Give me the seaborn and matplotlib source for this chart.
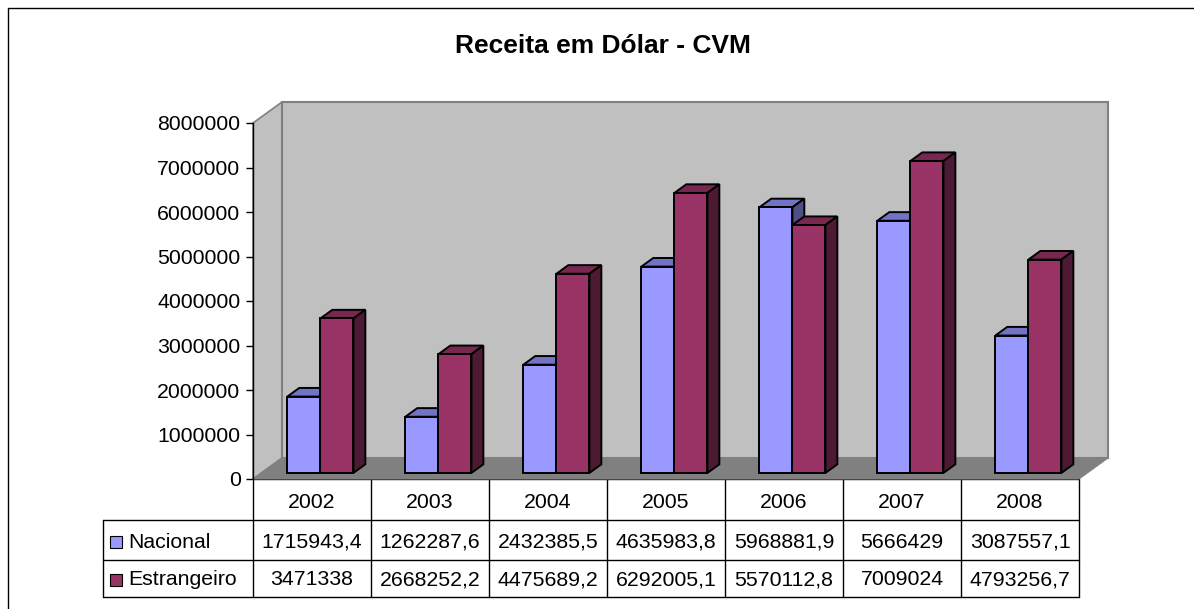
#!/usr/bin/env python3
"""Receita em Dólar - CVM: 3D-style clustered bars with a data table underneath."""

import pandas as pd
import matplotlib
matplotlib.use('Agg')
import matplotlib.pyplot as plt
import matplotlib.transforms as mtransforms
from matplotlib.patches import Polygon, Rectangle
from matplotlib.ticker import FuncFormatter, MultipleLocator
import seaborn as sns

# Data
anos = ['2002', '2003', '2004', '2005', '2006', '2007', '2008']
nacional = [1715943.4, 1262287.6, 2432385.5, 4635983.8, 5968881.9, 5666429, 3087557.1]
estrangeiro = [3471338, 2668252.2, 4475689.2, 6292005.1, 5570112.8, 7009024, 4793256.7]
series = ['Nacional', 'Estrangeiro']
titulo = 'Receita em Dólar - CVM'

# Colours (front, top, side)
cores = {
    'Nacional': ('#9999FF', '#7373C6', '#4F4F86'),
    'Estrangeiro': ('#993366', '#77284F', '#4D1A33'),
}

W, H, DPI = 1194, 609, 100
FS = 15.3

sns.set_style('white')
plt.rcParams['font.family'] = ['Liberation Sans', 'DejaVu Sans']
plt.rcParams['text.color'] = 'black'
plt.rcParams['ytick.color'] = 'black'
plt.rcParams['axes.labelcolor'] = 'black'


def fmt_br(v):
    s = f'{v:.1f}'.rstrip('0').rstrip('.')
    return s.replace('.', ',')


df = pd.DataFrame({
    'ano': anos * 2,
    'serie': ['Nacional'] * len(anos) + ['Estrangeiro'] * len(anos),
    'valor': nacional + estrangeiro,
})

fig = plt.figure(figsize=(W / DPI, H / DPI), dpi=DPI)

# pixel-space overlay for frame and table rows
ax_px = fig.add_axes([0, 0, 1, 1], zorder=0)
ax_px.set_xlim(0, W)
ax_px.set_ylim(H, 0)
ax_px.axis('off')

# main plotting area = front plane of the 3D box
x0, x1, y0, y1 = 253, 1079, 479, 123
ax = fig.add_axes([x0 / W, 1 - y0 / H, (x1 - x0) / W, (y0 - y1) / H], zorder=1)
ax.patch.set_visible(False)
ymax = 8_000_000
ax.set_xlim(-0.5, len(anos) - 0.5)
ax.set_ylim(0, ymax)

# depth of the box in data units
px_x = len(anos) / (x1 - x0)
px_y = ymax / (y0 - y1)
ox, oy = 29 * px_x, 21 * px_y
xl, xr = -0.5, len(anos) - 0.5

# walls and floor
left_wall = Polygon([(xl, 0), (xl, ymax), (xl + ox, ymax + oy), (xl + ox, oy)],
                    closed=True, facecolor='#C0C0C0', edgecolor='#808080', lw=1.2,
                    clip_on=False, zorder=0.5)
back_wall = Polygon([(xl + ox, oy), (xr + ox, oy), (xr + ox, ymax + oy), (xl + ox, ymax + oy)],
                    closed=True, facecolor='#C0C0C0', edgecolor='#808080', lw=1.5,
                    clip_on=False, zorder=0.5)
floor = Polygon([(xl, 0), (xr, 0), (xr + ox, oy), (xl + ox, oy)],
                closed=True, facecolor='#808080', edgecolor='#808080', lw=0.8,
                clip_on=False, zorder=0.6)
for p in (left_wall, back_wall, floor):
    ax.add_patch(p)

# front faces of the bars
sns.barplot(data=df, x='ano', y='valor', hue='serie', hue_order=series, order=anos,
            palette={s: cores[s][0] for s in series}, width=0.56, saturation=1,
            edgecolor='black', linewidth=1.4, legend=False, errorbar=None, ax=ax)

# push bars into the box and add tops / sides
bx, by = 0.29 * ox, 0.29 * oy
dx, dy = 0.41 * ox, 0.41 * oy
for k, (serie, cont) in enumerate(zip(series, ax.containers)):
    _, cor_topo, cor_lado = cores[serie]
    z = 2 + k
    for bar in cont:
        xb = bar.get_x() + bx
        w = bar.get_width()
        h = bar.get_height()
        bar.set_x(xb)
        bar.set_y(by)
        bar.set_zorder(z + 0.5)
        bar.set_clip_on(False)
        top = by + h
        ax.add_patch(Polygon([(xb, top), (xb + w, top), (xb + w + dx, top + dy), (xb + dx, top + dy)],
                             closed=True, facecolor=cor_topo, edgecolor='black', lw=1.4,
                             clip_on=False, zorder=z))
        ax.add_patch(Polygon([(xb + w, by), (xb + w + dx, by + dy), (xb + w + dx, top + dy), (xb + w, top)],
                             closed=True, facecolor=cor_lado, edgecolor='black', lw=1.4,
                             clip_on=False, zorder=z))

# axes cosmetics
for s in ('top', 'right', 'bottom'):
    ax.spines[s].set_visible(False)
ax.spines['left'].set_color('black')
ax.spines['left'].set_linewidth(1.0)
ax.yaxis.set_major_locator(MultipleLocator(1_000_000))
ax.yaxis.set_major_formatter(FuncFormatter(lambda v, _: f'{int(v)}'))
ax.tick_params(axis='y', direction='out', length=5, width=1, color='black',
               labelcolor='black', labelsize=FS, pad=4, left=True)
ax.set_xticks([])
ax.set_xlabel('')
ax.set_ylabel('')
ax.grid(False)

# data table under the chart
tr = mtransforms.blended_transform_factory(ax.transData, ax_px.transData)
row_top, row_hdr, row_nac, row_est = 479, 520, 560, 597
tab_left = 103
lc = dict(color='black', lw=1.0, zorder=5, clip_on=False)
ax_px.plot([x0, x1], [row_top, row_top], **lc)
for yy in (row_hdr, row_nac, row_est):
    ax_px.plot([tab_left, x1], [yy, yy], **lc)
ax_px.plot([tab_left, tab_left], [row_hdr, row_est], **lc)
for i in range(len(anos) + 1):
    ax_px.plot([i - 0.5, i - 0.5], [row_top, row_est], transform=tr, **lc)

for i, ano in enumerate(anos):
    ax_px.text(i, 507.5, ano, transform=tr, ha='center', va='baseline', fontsize=FS, color='black')
    ax_px.text(i, 547.5, fmt_br(nacional[i]), transform=tr, ha='center', va='baseline',
               fontsize=FS, color='black')
    ax_px.text(i, 585, fmt_br(estrangeiro[i]), transform=tr, ha='center', va='baseline',
               fontsize=FS, color='black')

for serie, base in zip(series, (547.5, 585)):
    ax_px.add_patch(Rectangle((110, base - 11.5), 12, 12, facecolor=cores[serie][0],
                              edgecolor='black', lw=0.8, zorder=5))
    ax_px.text(128, base, serie, ha='left', va='baseline', fontsize=FS, color='black')

# outer frame (only left and top fall inside the picture)
ax_px.plot([7.5, 7.5, W + 5], [H + 5, 7.5, 7.5], color='black', lw=1.0, clip_on=False)

ax_px.text(603, 46, titulo, ha='center', va='center', fontsize=19, fontweight='bold', color='black')

fig.savefig('out.png', dpi=DPI)
